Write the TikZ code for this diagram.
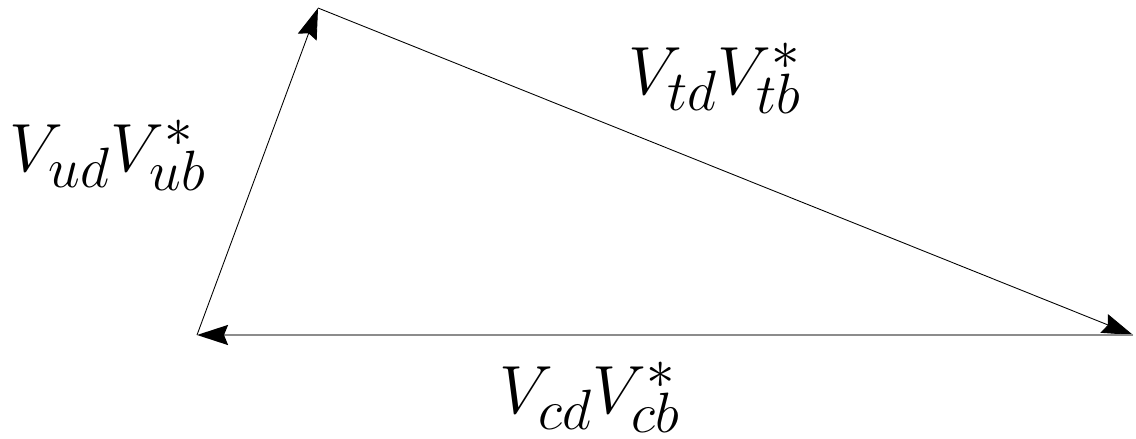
\documentclass[tikz,border=0pt]{standalone}
\usetikzlibrary{arrows.meta}
\begin{document}
\begin{tikzpicture}[x=0.02cm,y=-0.02cm,
  vec/.style={line width=0.5pt,-{Stealth[length=0.62cm,width=0.4cm,inset=0.08cm]}},
  lbl/.style={inner sep=0pt,font=\fontsize{24.88}{30}\selectfont}]
\newcommand{\bigmath}[1]{\scalebox{1.56}{$#1$}}
\useasboundingbox (0,0) rectangle (1136,439);
\coordinate (A) at (197,335);
\coordinate (B) at (318,8);
\coordinate (C) at (1133,335);
\draw[vec] (A) -- (B);
\draw[vec] (B) -- (C);
\draw[draw=black!45,line width=1.2pt,-{Stealth[length=0.62cm,width=0.4cm,inset=0.08cm,color=black]}] (C) -- (A);
\node[lbl] (ub) at (108,155) {\bigmath{V_{ud}V_{ub}^*}};
\node[lbl] (tb) at (715,78) {\bigmath{V_{td}V_{tb}^*}};
\node[lbl] (cb) at (590,397) {\bigmath{V_{cd}V_{cb}^*}};
\end{tikzpicture}
\end{document}
